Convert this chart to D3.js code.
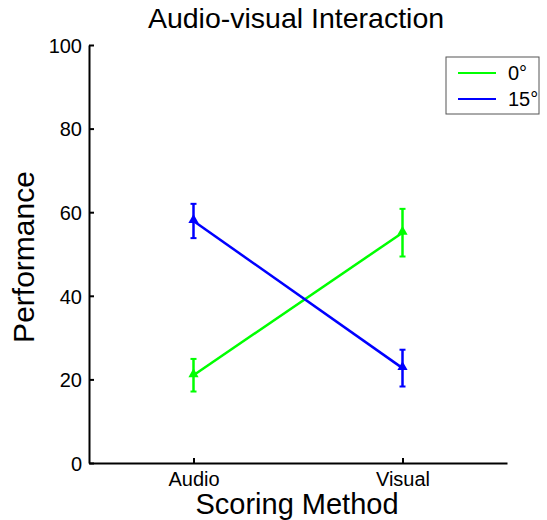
<!DOCTYPE html>
<html>
<head>
<meta charset="utf-8">
<script src="https://cdn.jsdelivr.net/npm/d3@7"></script>
<style>
  body { margin: 0; background: #fff; }
  text { font-family: "Liberation Sans", Arial, sans-serif; fill: #000; }
</style>
</head>
<body>
<div id="chart"></div>
<script>
// categories and series
var methods = ["Audio", "Visual"];
var seriesNames = ["0\u00b0", "15\u00b0"];
var seriesColors = ["#00ff00", "#0000ff"];
var means0 = [21.0, 55.1];
var errs0 = [3.9, 5.7];
var means15 = [57.9, 22.7];
var errs15 = [4.1, 4.4];
var yTicks = [0, 20, 40, 60, 80, 100];

var series = [
  { name: seriesNames[0], color: seriesColors[0], means: means0, errs: errs0 },
  { name: seriesNames[1], color: seriesColors[1], means: means15, errs: errs15 }
];

var svgWidth = 547, svgHeight = 520;
var margin = { top: 45, left: 89, right: 40, bottom: 57 };
var width = svgWidth - margin.left - margin.right;
var height = svgHeight - margin.top - margin.bottom;

var svg = d3.select("#chart").append("svg")
  .attr("width", svgWidth)
  .attr("height", svgHeight);

var g = svg.append("g")
  .attr("transform", `translate(${margin.left}, ${margin.top})`);

// x is numeric 1..2 on [0.5, 2.5]
var x = d3.scaleLinear().domain([0.5, 2.5]).range([0, width]);
var y = d3.scaleLinear().domain([0, 100]).range([height, 0]);

// axes with inward ticks
var xAxis = g.append("g")
  .attr("transform", `translate(0, ${height})`)
  .call(d3.axisBottom(x).tickValues([1, 2]).tickFormat((d, i) => methods[i])
        .tickSizeInner(-5).tickSizeOuter(0).tickPadding(9));
var yAxis = g.append("g")
  .call(d3.axisLeft(y).tickValues(yTicks).tickSizeInner(-5).tickSizeOuter(0).tickPadding(7));

[xAxis, yAxis].forEach(function(a) {
  a.select(".domain").attr("stroke", "#000").attr("stroke-width", 2);
  a.selectAll(".tick line").attr("stroke", "#000").attr("stroke-width", 2);
  a.selectAll("text").attr("font-size", 20).attr("font-family", "Liberation Sans, Arial, sans-serif");
});
xAxis.selectAll(".tick text").attr("dy", "0.71em");
yAxis.selectAll(".tick text").attr("dy", "0.36em");

// series lines, error bars, markers
var tri = d3.symbol().type(d3.symbolTriangle).size(45);

series.forEach(function(s) {
  var pts = s.means.map((m, i) => ({ x: i + 1, m: m, e: s.errs[i] }));
  var sg = g.append("g");

  sg.append("path")
    .datum(pts)
    .attr("fill", "none")
    .attr("stroke", s.color)
    .attr("stroke-width", 2.5)
    .attr("d", d3.line().x(d => x(d.x)).y(d => y(d.m)));

  var eb = sg.selectAll(".err").data(pts).enter().append("g");
  eb.append("line")
    .attr("x1", d => x(d.x)).attr("x2", d => x(d.x))
    .attr("y1", d => y(d.m - d.e)).attr("y2", d => y(d.m + d.e))
    .attr("stroke", s.color).attr("stroke-width", 2.5);
  eb.append("line")
    .attr("x1", d => x(d.x) - 3).attr("x2", d => x(d.x) + 3)
    .attr("y1", d => y(d.m + d.e)).attr("y2", d => y(d.m + d.e))
    .attr("stroke", s.color).attr("stroke-width", 2);
  eb.append("line")
    .attr("x1", d => x(d.x) - 3).attr("x2", d => x(d.x) + 3)
    .attr("y1", d => y(d.m - d.e)).attr("y2", d => y(d.m - d.e))
    .attr("stroke", s.color).attr("stroke-width", 2);

  sg.selectAll(".mk").data(pts).enter().append("path")
    .attr("d", tri)
    .attr("transform", d => `translate(${x(d.x)}, ${y(d.m) - 1})`)
    .attr("fill", s.color);
});

// titles
svg.append("text")
  .attr("x", 296).attr("y", 28)
  .attr("text-anchor", "middle")
  .attr("font-size", 28.5)
  .text("Audio-visual Interaction");

svg.append("text")
  .attr("x", 297).attr("y", 514)
  .attr("text-anchor", "middle")
  .attr("font-size", 29)
  .text("Scoring Method");

svg.append("text")
  .attr("transform", "translate(34, 257) rotate(-90)")
  .attr("text-anchor", "middle")
  .attr("font-size", 30)
  .text("Performance");

// legend
var legend = svg.append("g").attr("transform", "translate(446, 57)");
legend.append("rect")
  .attr("width", 93).attr("height", 57)
  .attr("fill", "#fff").attr("stroke", "#555").attr("stroke-width", 1);
series.forEach(function(s, i) {
  var ly = 16 + i * 26;
  legend.append("line")
    .attr("x1", 12).attr("x2", 50).attr("y1", ly).attr("y2", ly)
    .attr("stroke", s.color).attr("stroke-width", 2);
  legend.append("text")
    .attr("x", 62).attr("y", ly).attr("dy", "0.36em")
    .attr("font-size", 20)
    .text(s.name);
});
</script>
</body>
</html>
